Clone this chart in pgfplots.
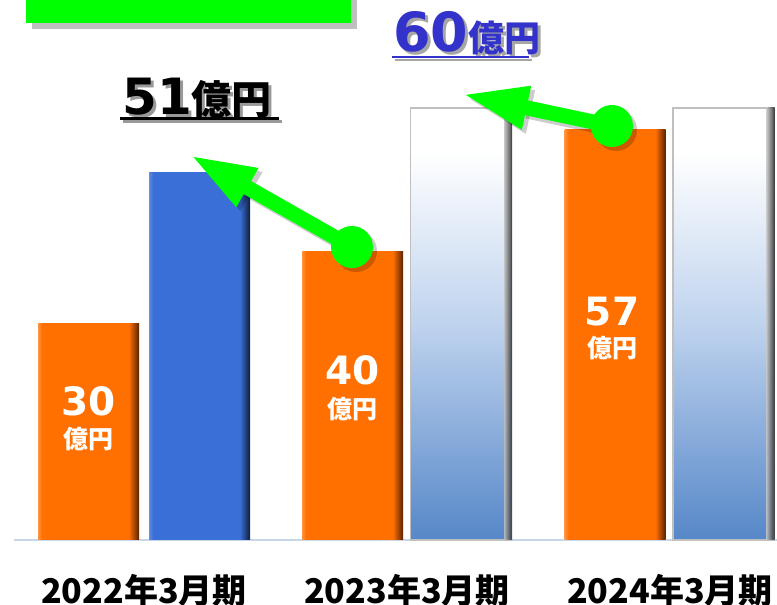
\documentclass[border=0pt]{standalone}
\usepackage{pgfplots}
\pgfplotsset{compat=1.18}
\usepackage{fontspec}
\usetikzlibrary{arrows.meta}
\newfontfamily\jp{Noto Sans CJK JP}
\newfontfamily\num{DejaVu Sans}
\definecolor{orM}{HTML}{FF7000}
\definecolor{orD}{HTML}{5A2200}
\definecolor{blM}{HTML}{3A6FD8}
\definecolor{blD}{HTML}{0E1C3A}
\definecolor{grn}{HTML}{00FF00}
\definecolor{lbl}{HTML}{3333CC}
\definecolor{wbB}{HTML}{5687C8}
\definecolor{wbMid}{HTML}{BFD3EE}
\definecolor{baseC}{HTML}{C8D6EA}
\pgfdeclarehorizontalshading{orangebar}{100bp}{color(0bp)=(orM!75!white); color(25bp)=(orM!75!white); color(27bp)=(orM); color(70bp)=(orM); color(75bp)=(orD); color(100bp)=(orD)}
\pgfdeclarehorizontalshading{bluebar}{100bp}{color(0bp)=(blM!80!white); color(25bp)=(blM!80!white); color(27bp)=(blM); color(70bp)=(blM); color(75bp)=(blD); color(100bp)=(blD)}
\pgfdeclareverticalshading{whitebar}{100bp}{color(0bp)=(wbB); color(25bp)=(wbB); color(50bp)=(wbMid); color(70bp)=(white); color(100bp)=(white)}
\begin{document}
\begin{tikzpicture}
\begin{axis}[
  scale only axis, width=388.5pt, height=302.5pt,
  xmin=0, xmax=777, ymin=-9.0278, ymax=75,
  hide axis, clip=false]
% baseline
\draw[baseC, line width=1.2pt] (axis cs:14,0) -- (axis cs:777,0);
% orange series (one bar per plot so that each is shaded on its own)
\addplot[ybar, bar width=101, bar shift=0, draw=none, shade, shading=orangebar]
  coordinates {(88.5,30)};
\addplot[ybar, bar width=101, bar shift=0, draw=none, shade, shading=orangebar, forget plot]
  coordinates {(352.5,40)};
\addplot[ybar, bar width=101, bar shift=0, draw=none, shade, shading=orangebar, forget plot]
  coordinates {(615,57)};
% 2022 blue
\addplot[ybar, bar width=101, bar shift=0, draw=none, shade, shading=bluebar]
  coordinates {(199.5,51)};
% white-blue bars
\addplot[ybar, bar width=101, bar shift=0, draw=black!25, line width=0.6pt, shade, shading=whitebar]
  coordinates {(461,60)};
\addplot[ybar, bar width=101, bar shift=0, draw=black!25, line width=0.6pt, shade, shading=whitebar, forget plot]
  coordinates {(723.5,60)};
\addplot[ybar, bar width=8, bar shift=0, draw=none, forget plot, shade, left color=black!25, right color=black!85, opacity=0.85]
  coordinates {(508,60)};
\addplot[ybar, bar width=8, bar shift=0, draw=none, forget plot, shade, left color=black!25, right color=black!85, opacity=0.85]
  coordinates {(770.5,60)};
% green box
\fill[black, opacity=0.25] (axis cs:32,75) rectangle (axis cs:357,70.97);
\fill[grn] (axis cs:26,75) rectangle (axis cs:351,71.81);
% arrows (shadow)
\draw[black, opacity=0.2, line width=7.5pt, -{Triangle[length=33pt, width=20pt]}] ([shift={(2pt,-2pt)}]axis cs:352,40.69) -- ([shift={(2pt,-2pt)}]axis cs:190,53.47);
\fill[black, opacity=0.2] ([shift={(2pt,-2pt)}]axis cs:352,40.69) circle[radius=10.5pt];
\draw[black, opacity=0.2, line width=7.5pt, -{Triangle[length=33pt, width=20pt]}] ([shift={(2pt,-2pt)}]axis cs:612,57.5) -- ([shift={(2pt,-2pt)}]axis cs:462,61.94);
\fill[black, opacity=0.2] ([shift={(2pt,-2pt)}]axis cs:612,57.5) circle[radius=10.5pt];
% arrows
\draw[grn, line width=7.5pt, -{Triangle[length=33pt, width=20pt]}] (axis cs:352,40.69) -- (axis cs:190,53.47);
\fill[grn] (axis cs:352,40.69) circle[radius=10.5pt];
\draw[grn, line width=7.5pt, -{Triangle[length=33pt, width=20pt]}] (axis cs:612,57.5) -- (axis cs:462,61.94);
\fill[grn] (axis cs:612,57.5) circle[radius=10.5pt];
% 51 label
\node[anchor=base west, inner sep=0pt, text=black!40] at ([shift={(1.5pt,-1.5pt)}]axis cs:122,59.03) {\num\bfseries\fontsize{25pt}{25pt}\selectfont 51\jp\fontsize{20pt}{20pt}\selectfont 億円};
\node[anchor=base west, inner sep=0pt, text=black] at (axis cs:122,59.03) {\num\bfseries\fontsize{25pt}{25pt}\selectfont 51\jp\fontsize{20pt}{20pt}\selectfont 億円};
\draw[black!40, line width=1.5pt] ([shift={(1.5pt,-1.5pt)}]axis cs:120,58.61) -- ([shift={(1.5pt,-1.5pt)}]axis cs:279,58.61);
\draw[black, line width=1.5pt] (axis cs:120,58.61) -- (axis cs:279,58.61);
% 60 label
\node[anchor=base west, inner sep=0pt, text=black!35] at ([shift={(1.5pt,-1.5pt)}]axis cs:393,67.78) {\num\bfseries\fontsize{27pt}{27pt}\selectfont 60\jp\fontsize{18pt}{18pt}\selectfont 億円};
\node[anchor=base west, inner sep=0pt, text=lbl] at (axis cs:393,67.78) {\num\bfseries\fontsize{27pt}{27pt}\selectfont 60\jp\fontsize{18pt}{18pt}\selectfont 億円};
\draw[black!35, line width=1.2pt] ([shift={(1.5pt,-1.5pt)}]axis cs:392,67.08) -- ([shift={(1.5pt,-1.5pt)}]axis cs:529,67.08);
\draw[lbl, line width=1.2pt] (axis cs:392,67.08) -- (axis cs:529,67.08);
% in-bar labels
\node[anchor=base, inner sep=0pt, text=white] at (axis cs:88.5,17.36) {\num\bfseries\fontsize{19.5pt}{19.5pt}\selectfont 30};
\node[anchor=base, inner sep=0pt, text=white] at (axis cs:88.5,12.64) {\jp\bfseries\fontsize{12.5pt}{12.5pt}\selectfont 億円};
\node[anchor=base, inner sep=0pt, text=white] at (axis cs:352.5,21.53) {\num\bfseries\fontsize{19.5pt}{19.5pt}\selectfont 40};
\node[anchor=base, inner sep=0pt, text=white] at (axis cs:352.5,16.94) {\jp\bfseries\fontsize{12.5pt}{12.5pt}\selectfont 億円};
\node[anchor=base, inner sep=0pt, text=white] at (axis cs:612,29.86) {\num\bfseries\fontsize{19.5pt}{19.5pt}\selectfont 57};
\node[anchor=base, inner sep=0pt, text=white] at (axis cs:612,25.28) {\jp\bfseries\fontsize{12.5pt}{12.5pt}\selectfont 億円};
% category labels
\node[anchor=center, inner sep=0pt] at (axis cs:144,-6.98) {\jp\bfseries\fontsize{17pt}{17pt}\selectfont 2022年3月期};
\node[anchor=center, inner sep=0pt] at (axis cs:407,-6.98) {\jp\bfseries\fontsize{17pt}{17pt}\selectfont 2023年3月期};
\node[anchor=center, inner sep=0pt] at (axis cs:670,-6.98) {\jp\bfseries\fontsize{17pt}{17pt}\selectfont 2024年3月期};
\end{axis}
\pgfresetboundingbox
\useasboundingbox (current axis.south west) rectangle (current axis.north east);
\end{tikzpicture}
\end{document}
